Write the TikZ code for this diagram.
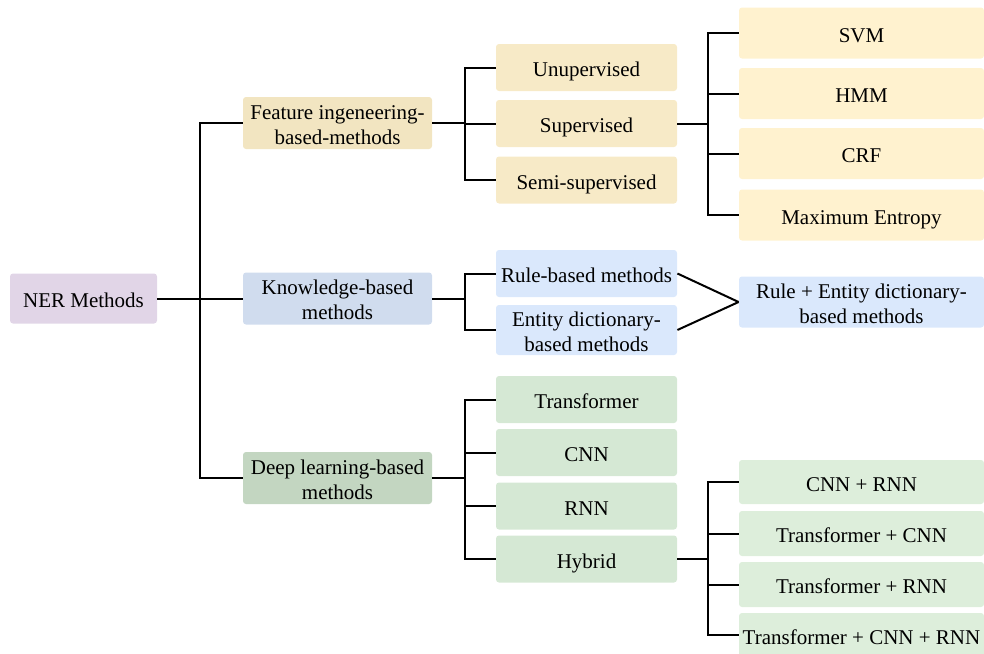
\documentclass[tikz,border=0pt]{standalone}
\usepackage{fontspec}
\setmainfont{Liberation Serif}
\definecolor{cpur}{HTML}{E1D5E7}
\definecolor{cy2}{HTML}{F2E5C1}
\definecolor{cy3}{HTML}{F7EAC7}
\definecolor{cy4}{HTML}{FFF2CF}
\definecolor{cb2}{HTML}{D0DCEE}
\definecolor{cb3}{HTML}{DAE8FC}
\definecolor{cg2}{HTML}{C3D6C1}
\definecolor{cg3}{HTML}{D5E8D4}
\definecolor{cg4}{HTML}{DDEEDB}
\begin{document}
\begin{tikzpicture}[x=0.5pt,y=-0.5pt,
  box/.style={rounded corners=1.5pt,inner sep=0pt,align=center,
    font=\fontsize{10.5}{12.5}\selectfont},
  one/.style={text height=10pt,text depth=1pt},
  lv1/.style={box,minimum width=73.5pt,minimum height=25pt},
  lv2/.style={box,minimum width=94.5pt,minimum height=26pt},
  lv3/.style={box,minimum width=90.5pt,minimum height=23.5pt},
  lv4/.style={box,minimum width=122.5pt,minimum height=25.5pt},
  conn/.style={line width=1pt,black}]
\useasboundingbox (0,0) rectangle (984,653);
% level 1
\node[lv1,one,fill=cpur] (ner) at (83.5,298.5) {NER Methods};
% level 2
\node[lv2,fill=cy2] (feat) at (337.5,123) {\strut Feature ingeneering-\\based-methods};
\node[lv2,fill=cb2] (know) at (337.5,298.5) {\strut Knowledge-based\\methods};
\node[lv2,fill=cg2] (deep) at (337.5,478) {\strut Deep learning-based\\methods};
% level 3 yellow
\node[lv3,one,fill=cy3] (unsup) at (586.5,67.5) {Unupervised};
\node[lv3,one,fill=cy3] (sup) at (586.5,123.5) {Supervised};
\node[lv3,one,fill=cy3] (semi) at (586.5,180) {Semi-supervised};
% level 4 yellow
\node[lv4,one,fill=cy4] (svm) at (861.5,33) {SVM};
\node[lv4,one,fill=cy4] (hmm) at (861.5,93.5) {HMM};
\node[lv4,one,fill=cy4] (crf) at (861.5,153.5) {CRF};
\node[lv4,one,fill=cy4] (maxent) at (861.5,215) {Maximum Entropy};
% blue
\node[lv3,one,fill=cb3] (rule) at (586.5,273.5) {Rule-based methods};
\node[lv3,fill=cb3,minimum height=25pt] (ent) at (586.5,330) {\strut Entity dictionary-\\based methods};
\node[lv4,fill=cb3] (re) at (861.5,302) {\strut Rule + Entity dictionary-\\based methods};
% green
\node[lv3,one,fill=cg3] (trans) at (586.5,399.5) {Transformer};
\node[lv3,one,fill=cg3] (cnn) at (586.5,452.5) {CNN};
\node[lv3,one,fill=cg3] (rnn) at (586.5,506) {RNN};
\node[lv3,one,fill=cg3] (hyb) at (586.5,559) {Hybrid};
\node[lv4,one,fill=cg4,minimum height=22pt] (cr) at (861.5,482) {CNN + RNN};
\node[lv4,one,fill=cg4,minimum height=22.5pt] (tc) at (861.5,533.5) {Transformer + CNN};
\node[lv4,one,fill=cg4,minimum height=22.5pt] (tr) at (861.5,584.5) {Transformer + RNN};
\node[lv4,one,fill=cg4,minimum height=22pt] (tcr) at (861.5,635) {Transformer + CNN + RNN};
% junctions
\coordinate (j1) at (200,298.5);
\coordinate (j2) at (465,123);
\coordinate (j3) at (708,123.5);
\coordinate (j4) at (465,298.5);
\coordinate (j5) at (465,478);
\coordinate (j6) at (708,559);
% connectors
\draw[conn] (ner.east) -- (know.west);
\draw[conn] (feat.west) -| (j1);
\draw[conn] (deep.west) -| (j1);
\draw[conn] (feat.east) -- (j2);
\draw[conn] (unsup.west) -| (j2);
\draw[conn] (semi.west) -| (j2);
\draw[conn] (sup.west) -- (sup.west -| j2);
\draw[conn] (sup.east) -- (j3);
\draw[conn] (svm.west) -| (j3);
\draw[conn] (maxent.west) -| (j3);
\draw[conn] (hmm.west) -- (hmm.west -| j3);
\draw[conn] (crf.west) -- (crf.west -| j3);
\draw[conn] (know.east) -- (j4);
\draw[conn] (rule.west) -| (j4);
\draw[conn] (ent.west) -| (j4);
\draw[conn] (rule.east) -- (re.west);
\draw[conn] (ent.east) -- (re.west);
\draw[conn] (deep.east) -- (j5);
\draw[conn] (trans.west) -| (j5);
\draw[conn] (hyb.west) -| (j5);
\draw[conn] (cnn.west) -- (cnn.west -| j5);
\draw[conn] (rnn.west) -- (rnn.west -| j5);
\draw[conn] (hyb.east) -- (j6);
\draw[conn] (cr.west) -| (j6);
\draw[conn] (tcr.west) -| (j6);
\draw[conn] (tc.west) -- (tc.west -| j6);
\draw[conn] (tr.west) -- (tr.west -| j6);
\end{tikzpicture}
\end{document}
